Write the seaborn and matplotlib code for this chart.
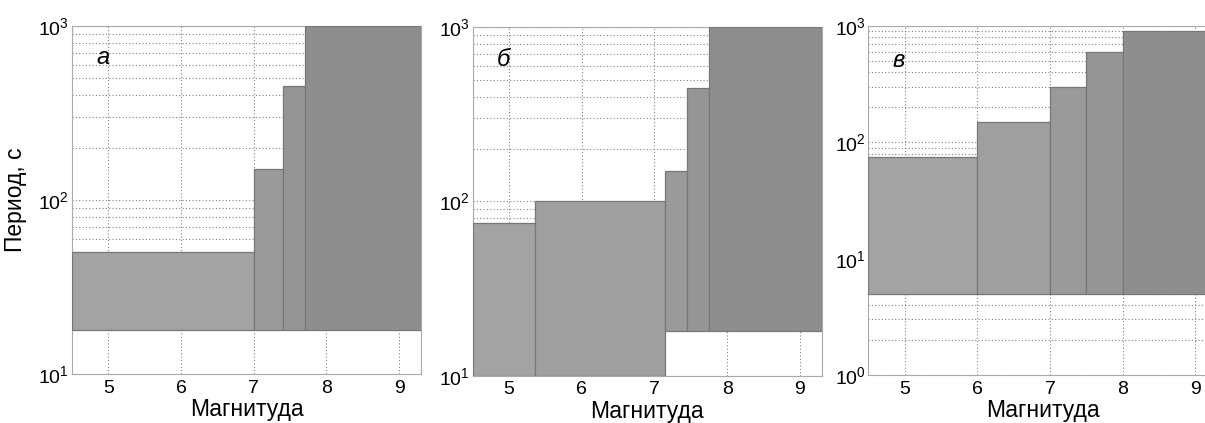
import numpy as np
import matplotlib
matplotlib.use("Agg")
import matplotlib.pyplot as plt
import seaborn as sns

# ---- data ----
panel_letters = ["а", "б", "в"]
a_edges = [4.5, 7.0, 7.4, 7.7, 9.3]
a_top = [50, 150, 450, 1000]
a_bottom = [18, 18, 18, 18]

b_edges = [4.5, 5.35, 7.15, 7.45, 7.75, 9.3]
b_top = [75, 100, 150, 450, 1000]
b_bottom = [10, 10, 18, 18, 18]

c_edges = [4.5, 6.0, 7.0, 7.5, 8.0, 9.3]
c_top = [75, 150, 300, 600, 900]
c_bottom = [5, 5, 5, 5, 5]

x_ticks = [5, 6, 7, 8, 9]
xlabel = "Магнитуда"
ylabel = "Период, с"

sns.set_theme(style="white")
plt.rcParams['font.family'] = ['Liberation Sans', 'DejaVu Sans']
plt.rcParams['mathtext.fontset'] = 'custom'
plt.rcParams['mathtext.rm'] = 'Liberation Sans'
plt.rcParams['mathtext.it'] = 'Liberation Sans:italic'
plt.rcParams['text.color'] = 'black'
plt.rcParams['axes.labelcolor'] = 'black'
plt.rcParams['xtick.labelcolor'] = 'black'
plt.rcParams['ytick.labelcolor'] = 'black'

fig = plt.figure(figsize=(12.05, 4.23), dpi=100)
positions = [
    [72 / 1205, 49 / 423, 349 / 1205, 348 / 423],
    [472.7 / 1205, 47.3 / 423, 349 / 1205, 348.4 / 423],
    [868.3 / 1205, 48 / 423, 349 / 1205, 349 / 423],
]
panels = [(a_edges, a_top, a_bottom, (10, 1000), 655),
          (b_edges, b_top, b_bottom, (10, 1000), 655),
          (c_edges, c_top, c_bottom, (1, 1000), 510)]
colors4 = ["#a3a3a3", "#9a9a9a", "#959595", "#8e8e8e"]
colors5 = ["#a3a3a3", "#9f9f9f", "#9a9a9a", "#959595", "#8e8e8e"]

for i, (edges, top, bottom, ylim, ly) in enumerate(panels):
    ax = fig.add_axes(positions[i])
    ax.set_yscale('log')
    ax.set_xlim(4.5, 9.3)
    ax.set_ylim(*ylim)
    edges = np.asarray(edges)
    lefts = edges[:-1]
    widths = np.diff(edges)
    heights = np.asarray(top) - np.asarray(bottom)
    cols = colors4 if len(lefts) == 4 else colors5
    ax.bar(lefts, heights, width=widths, bottom=bottom, align='edge',
           color=cols, edgecolor='#777777', linewidth=0.9, zorder=3)
    ax.set_xticks(x_ticks)
    ax.grid(True, which='major', axis='both', linestyle=(0, (1, 2)), color='#808080', linewidth=0.8, zorder=0)
    ax.grid(True, which='minor', axis='y', linestyle=(0, (1, 2)), color='#808080', linewidth=0.8, zorder=0)
    ax.set_axisbelow(True)
    ax.tick_params(axis='both', which='both', direction='in', labelsize=14,
                   length=3, width=0.6, color='#888888', pad=4)
    ax.tick_params(axis='y', which='major', pad=2)
    ax.tick_params(axis='y', which='minor', length=2)
    for s in ax.spines.values():
        s.set_color('#aaaaaa')
        s.set_linewidth(0.8)
    ax.set_xlabel(xlabel, fontsize=16.5, labelpad=1)
    if i == 0:
        ax.set_ylabel(ylabel, fontsize=16.5, labelpad=8)
    ax.text(4.92, ly, panel_letters[i], fontsize=17, style='italic',
            ha='center', va='center', zorder=5)

fig.savefig("out.png", dpi=100)
